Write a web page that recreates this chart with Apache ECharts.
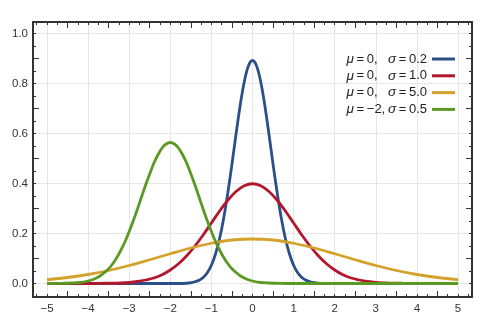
<!DOCTYPE html>
<html>
<head>
<meta charset="utf-8">
<script src="https://cdn.jsdelivr.net/npm/echarts@6/dist/echarts.min.js"></script>
<style>
  html, body { margin: 0; padding: 0; background: #fff; }
  #chart { width: 500px; height: 326px; }
</style>
</head>
<body>
<div id="chart"></div>
<script>
// Normal density curves: x positions and densities for each parameter set
const blueX = [-5, -4, -3, -2, -1.8, -1.6, -1.5, -1.4, -1.3, -1.2, -1.1, -1.0, -0.9, -0.8, -0.7, -0.6, -0.5, -0.4, -0.3, -0.2, -0.1,
  0, 0.1, 0.2, 0.3, 0.4, 0.5, 0.6, 0.7, 0.8, 0.9, 1.0, 1.1, 1.2, 1.3, 1.4, 1.5, 1.6, 1.8, 2, 3, 4, 5];
const blueY = [0, 0, 0, 0, 0, 0.001, 0.003, 0.007, 0.013, 0.024, 0.043, 0.073, 0.118, 0.180, 0.262, 0.363, 0.477, 0.598, 0.712, 0.807, 0.870,
  0.892, 0.870, 0.807, 0.712, 0.598, 0.477, 0.363, 0.262, 0.180, 0.118, 0.073, 0.043, 0.024, 0.013, 0.007, 0.003, 0.001, 0, 0, 0, 0, 0];

const redX = [-5, -4.6, -4.2, -4.0, -3.8, -3.6, -3.4, -3.2, -3.0, -2.8, -2.6, -2.4, -2.2, -2.0, -1.8, -1.6, -1.4, -1.2, -1.0, -0.8, -0.6, -0.4, -0.2,
  0, 0.2, 0.4, 0.6, 0.8, 1.0, 1.2, 1.4, 1.6, 1.8, 2.0, 2.2, 2.4, 2.6, 2.8, 3.0, 3.2, 3.4, 3.6, 3.8, 4.0, 4.2, 4.6, 5];
const redY = [0, 0, 0, 0, 0, 0.001, 0.001, 0.002, 0.004, 0.008, 0.014, 0.022, 0.035, 0.054, 0.079, 0.111, 0.150, 0.194, 0.242, 0.290, 0.333, 0.368, 0.391,
  0.399, 0.391, 0.368, 0.333, 0.290, 0.242, 0.194, 0.150, 0.111, 0.079, 0.054, 0.035, 0.022, 0.014, 0.008, 0.004, 0.002, 0.001, 0.001, 0, 0, 0, 0, 0];

const goldX = [-5, -4.5, -4, -3.5, -3, -2.5, -2, -1.5, -1, -0.5, 0, 0.5, 1, 1.5, 2, 2.5, 3, 3.5, 4, 4.5, 5];
const goldY = [0.015, 0.024, 0.036, 0.052, 0.072, 0.095, 0.119, 0.142, 0.161, 0.174, 0.178, 0.174, 0.161, 0.142, 0.119, 0.095, 0.072, 0.052, 0.036, 0.024, 0.015];

const greenX = [-5, -4.6, -4.4, -4.2, -4.0, -3.9, -3.8, -3.7, -3.6, -3.5, -3.4, -3.3, -3.2, -3.1, -3.0, -2.9, -2.8, -2.7, -2.6, -2.5, -2.4, -2.3, -2.2, -2.1,
  -2.0, -1.9, -1.8, -1.7, -1.6, -1.5, -1.4, -1.3, -1.2, -1.1, -1.0, -0.9, -0.8, -0.7, -0.6, -0.5, -0.4, -0.3, -0.2, -0.1, 0, 0.2, 0.4, 0.6, 1, 2, 3, 4, 5];
const greenY = [0, 0.001, 0.002, 0.004, 0.010, 0.015, 0.022, 0.031, 0.044, 0.059, 0.079, 0.104, 0.134, 0.168, 0.208, 0.251, 0.297, 0.346, 0.394, 0.439, 0.481, 0.515, 0.542, 0.558,
  0.564, 0.558, 0.542, 0.515, 0.481, 0.439, 0.394, 0.346, 0.297, 0.251, 0.208, 0.168, 0.134, 0.104, 0.079, 0.059, 0.044, 0.031, 0.022, 0.015, 0.010, 0.004, 0.002, 0.001, 0, 0, 0, 0, 0];

// Legend parameters
const muLabels = ['0', '0', '0', '−2'];
const sigmaLabels = ['0.2', '1.0', '5.0', '0.5'];
const seriesColors = ['#2b4f86', '#b3172b', '#d4a12b', '#5b9a22'];

// Tick labels
const xTickLabels = [-5, -4, -3, -2, -1, 0, 1, 2, 3, 4, 5];
const yTickLabels = [0, 0.2, 0.4, 0.6, 0.8, 1.0];

const X_MIN = -5.34, X_MAX = 5.34;
const Y_MIN = -0.054, Y_MAX = 1.046;

// Frame tick positions: short ticks every quarter / 0.05, long ticks midway between labels
const xShort = [], xLong = [], yShort = [], yLong = [];
for (let k = -21; k <= 21; k++) xShort.push(k * 0.25);
for (let k = -5; k < 5; k++) xLong.push(k + 0.5);
for (let k = -1; k <= 20; k++) yShort.push(+(k * 0.05).toFixed(2));
for (let k = 0; k < 5; k++) yLong.push(+(0.1 + k * 0.2).toFixed(1));

const frameColor = '#333';
const tickStyle = { color: frameColor, width: 1 };

function tickAxis(kind, position, values, len, showLine) {
  return {
    type: 'value', position: position,
    min: kind === 'x' ? X_MIN : Y_MIN, max: kind === 'x' ? X_MAX : Y_MAX,
    axisLine: { show: !!showLine, onZero: false, lineStyle: { color: frameColor, width: 2 } },
    axisTick: { show: true, inside: true, length: len, customValues: values, lineStyle: tickStyle },
    axisLabel: { show: false },
    splitLine: { show: false },
    minorTick: { show: false }
  };
}

const fmtNum = v => (v < 0 ? '−' + Math.abs(v) : String(v));

const xAxes = [
  {
    type: 'value', position: 'bottom', min: X_MIN, max: X_MAX,
    axisLine: { show: true, onZero: false, lineStyle: { color: frameColor, width: 2 } },
    axisTick: { show: false, customValues: xTickLabels },
    axisLabel: { customValues: xTickLabels, formatter: fmtNum, color: '#333', fontSize: 11.5, margin: 6, fontFamily: 'Liberation Sans' },
    splitLine: { show: true, lineStyle: { color: '#e6e6e6', width: 1 } }
  },
  tickAxis('x', 'bottom', xShort, 3, false),
  tickAxis('x', 'bottom', xLong, 6, false),
  tickAxis('x', 'top', xShort, 3, true),
  tickAxis('x', 'top', xLong, 6, false)
];

const yAxes = [
  {
    type: 'value', position: 'left', min: Y_MIN, max: Y_MAX,
    axisLine: { show: true, onZero: false, lineStyle: { color: frameColor, width: 2 } },
    axisTick: { show: false, customValues: yTickLabels },
    axisLabel: { customValues: yTickLabels, formatter: v => v.toFixed(1), color: '#333', fontSize: 11.5, margin: 5, fontFamily: 'Liberation Sans' },
    splitLine: { show: true, lineStyle: { color: '#e6e6e6', width: 1 } }
  },
  tickAxis('y', 'left', yShort, 3, false),
  tickAxis('y', 'left', yLong, 6, false),
  tickAxis('y', 'right', yShort, 3, true),
  tickAxis('y', 'right', yLong, 6, false)
];

const names = muLabels.map((m, i) => 'μ=' + m + ', σ=' + sigmaLabels[i]);

function curve(i, xs, ys) {
  return {
    name: names[i], type: 'line', xAxisIndex: 0, yAxisIndex: 0,
    data: xs.map((x, j) => [x, ys[j]]),
    showSymbol: false, smooth: 0.35, clip: true,
    lineStyle: { color: seriesColors[i], width: 2.8 },
    itemStyle: { color: seriesColors[i] },
    emphasis: { disabled: true }, silent: true, z: 3 + i
  };
}

const legendFont = { color: '#222', fontSize: 13, lineHeight: 14, fontFamily: 'Liberation Sans' };
const greekFont = { color: '#222', fontSize: 13.5, lineHeight: 14, fontStyle: 'italic', fontFamily: 'Liberation Sans' };
const thin = '\u2009';

const chart = echarts.init(document.getElementById('chart'), null, { renderer: 'canvas' });
chart.setOption({
  animation: false,
  backgroundColor: '#fff',
  grid: { left: 33, right: 28, top: 22, bottom: 29, outerBoundsMode: 'none' },
  xAxis: xAxes,
  yAxis: yAxes,
  legend: {
    data: names,
    orient: 'vertical', right: 45, top: 52, align: 'right', padding: 0,
    icon: 'rect', itemWidth: 23, itemHeight: 3, itemGap: 2.8,
    selectedMode: false,
    formatter: name => {
      const i = names.indexOf(name);
      return '{m|μ}{a|' + thin + '=' + thin + muLabels[i] + ',}{g|σ}{n|' + thin + '=' + thin + sigmaLabels[i] + '}';
    },
    textStyle: Object.assign({}, legendFont, {
      rich: {
        m: Object.assign({ width: 7.5, align: 'left' }, greekFont),
        g: greekFont,
        a: Object.assign({ width: 34, align: 'left' }, legendFont),
        n: legendFont
      }
    })
  },
  series: [
    curve(0, blueX, blueY),
    curve(1, redX, redY),
    curve(2, goldX, goldY),
    curve(3, greenX, greenY)
  ]
});
</script>
</body>
</html>
